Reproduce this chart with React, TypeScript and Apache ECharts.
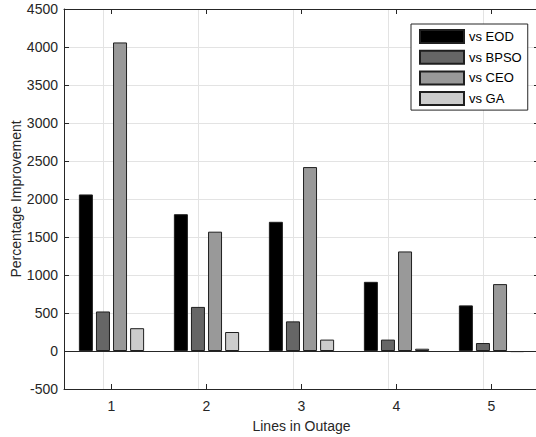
import React, { useEffect, useRef } from "react";
import * as echarts from "echarts";

const categories = ["1", "2", "3", "4", "5"];
const seriesNames = ["vs EOD", "vs BPSO", "vs CEO", "vs GA"];
const vsEOD = [2060, 1800, 1700, 910, 600];
const vsBPSO = [520, 580, 390, 150, 105];
const vsCEO = [4060, 1570, 2420, 1310, 880];
const vsGA = [300, 250, 150, 30, -15];
const seriesValues = [vsEOD, vsBPSO, vsCEO, vsGA];
const seriesColors = ["#000000", "#666666", "#999999", "#cccccc"];
const yMin = -500;
const yMax = 4500;
const yStep = 500;

const FONT = "'Liberation Sans', Arial, Helvetica, sans-serif";
const AXIS = "#262626";
const GRID = "#e3e3e3";

export default function App() {
  const ref = useRef<HTMLDivElement>(null);
  useEffect(() => {
    if (!ref.current) return;
    const chart = echarts.init(ref.current, null, { renderer: "svg" });
    const series: any[] = seriesNames.map((name, i) => {
      const s: any = {
        name,
        type: "bar",
        xAxisIndex: 0,
        yAxisIndex: 0,
        data: seriesValues[i],
        barWidth: 14,
        barGap: "22%",
        itemStyle: { color: seriesColors[i], borderColor: "#1f1f1f", borderWidth: 1 },
        emphasis: { disabled: true },
      };
      if (i === 0) {
        // zero baseline, above the bars
        s.markLine = {
          silent: true,
          symbol: "none",
          z: 6,
          label: { show: false },
          lineStyle: { color: AXIS, type: "solid", width: 1 },
          data: [{ yAxis: 0 }],
        };
      }
      if (i === 1) {
        // vertical grid lines at the category centres, under the bars
        s.markLine = {
          silent: true,
          symbol: "none",
          z: 0,
          label: { show: false },
          lineStyle: { color: GRID, type: "solid", width: 1 },
          data: categories.map((c) => ({ xAxis: c })),
        };
      }
      return s;
    });
    chart.setOption({
      animation: false,
      backgroundColor: "#ffffff",
      textStyle: { fontFamily: FONT },
      grid: { left: 64, top: 9, width: 475, height: 380, containLabel: false, outerBoundsMode: "none" },
      legend: {
        orient: "vertical",
        left: 411,
        top: 24,
        data: seriesNames,
        icon: "rect",
        itemWidth: 44,
        itemHeight: 13,
        itemGap: 5.7,
        padding: [5, 6, 4, 8],
        borderColor: AXIS,
        borderWidth: 1,
        backgroundColor: "#ffffff",
        textStyle: { fontFamily: FONT, fontSize: 13, color: "#000000", lineHeight: 13 },
        z: 10,
      },
      xAxis: [
        {
          type: "category",
          data: categories,
          position: "bottom",
          name: "Lines in Outage",
          nameLocation: "middle",
          nameGap: 30,
          nameMoveOverlap: false,
          nameTextStyle: { fontFamily: FONT, fontSize: 14, color: AXIS },
          axisLine: { show: true, onZero: false, lineStyle: { color: AXIS, width: 1 } },
          axisTick: { show: true, inside: true, length: 5, alignWithLabel: true, lineStyle: { color: AXIS } },
          axisLabel: { fontFamily: FONT, fontSize: 14, color: AXIS, margin: 10 },
          splitLine: { show: false },
          z: 3,
        },
        {
          type: "category",
          data: categories,
          position: "top",
          axisLine: { show: true, onZero: false, lineStyle: { color: AXIS, width: 1 } },
          axisTick: { show: true, inside: true, length: 5, alignWithLabel: true, lineStyle: { color: AXIS } },
          axisLabel: { show: false },
          splitLine: { show: false },
          z: 3,
        },
      ],
      yAxis: [
        {
          type: "value",
          min: yMin,
          max: yMax,
          interval: yStep,
          position: "left",
          name: "Percentage Improvement",
          nameLocation: "middle",
          nameGap: 41,
          nameMoveOverlap: false,
          nameTextStyle: { fontFamily: FONT, fontSize: 14, color: AXIS },
          axisLine: { show: true, onZero: false, lineStyle: { color: AXIS, width: 1 } },
          axisTick: { show: true, inside: true, length: 5, lineStyle: { color: AXIS } },
          axisLabel: { fontFamily: FONT, fontSize: 14, color: AXIS, margin: 6, formatter: (v: number) => String(v) },
          splitLine: { show: true, lineStyle: { color: GRID, width: 1 } },
        },
        {
          type: "value",
          min: yMin,
          max: yMax,
          interval: yStep,
          position: "right",
          axisLine: { show: true, onZero: false, lineStyle: { color: AXIS, width: 1 } },
          axisTick: { show: true, inside: true, length: 5, lineStyle: { color: AXIS } },
          axisLabel: { show: false },
          splitLine: { show: false },
        },
      ],
      series,
    });
    return () => chart.dispose();
  }, []);
  return (
    <div
      ref={ref}
      style={{ position: "absolute", left: 0, top: 0, width: 536, height: 437, background: "#fff" }}
    />
  );
}
